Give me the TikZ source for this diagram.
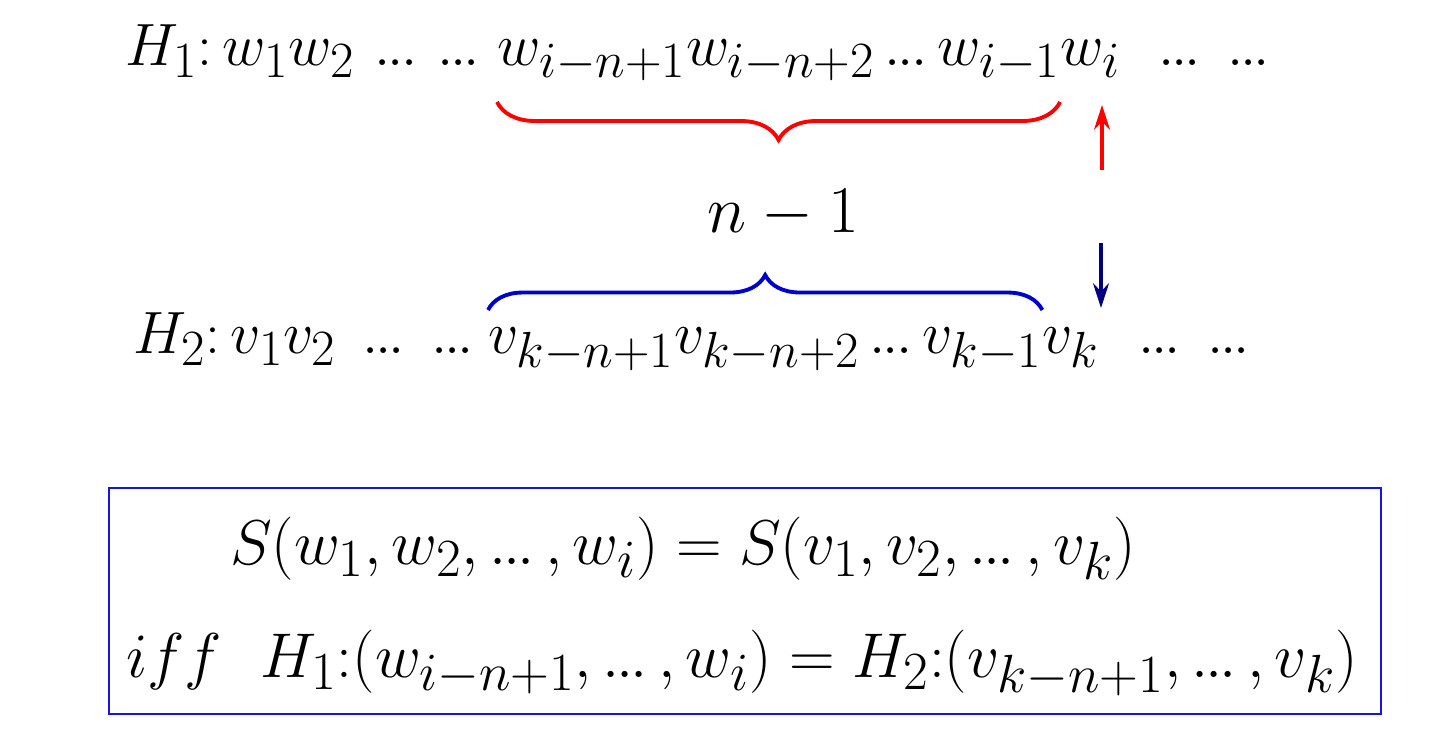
\RequirePackage{fix-cm}
\documentclass[tikz,border=0pt]{standalone}
\usepackage{amsmath,amssymb}
\usepackage{tikz}
\usetikzlibrary{arrows.meta, calc, positioning, decorations.pathreplacing}
\definecolor{bracered}{RGB}{255, 0, 0}
\definecolor{braceblue}{RGB}{0, 0, 204}
\definecolor{arrownavy}{RGB}{0, 0, 128}
\definecolor{boxblue}{RGB}{20, 20, 230}
\renewcommand{\defaultscriptratio}{.85}
\newcommand{\tdots}{\mathinner{.\kern-0.05em.\kern-0.05em.}}

\begin{document}
\begin{tikzpicture}[x=0.02cm, y=-0.02cm,
    seqtxt/.style={inner sep=0pt, font=\fontsize{34}{40}\selectfont},
    eqtxt/.style={inner sep=0pt, font=\fontsize{36}{42}\selectfont},
    bracedeco/.style={decorate, line width=2.2pt,
        decoration={brace, amplitude=#1}},
    upstem/.style={line width=2.2pt, bracered, -{Stealth[length=14pt, width=9pt]}},
    downstem/.style={line width=2.2pt, arrownavy, -{Stealth[length=14pt, width=9pt]}}]
    \useasboundingbox (0,0) rectangle (1451,744);

    % First sequence
    \node[seqtxt, anchor=base west] (h1) at (125,65) {$H_1{:}\,w_1w_2\,\tdots\,\tdots$};
    \node[seqtxt, anchor=base west] (wseg) at (497,65) {$w_{i-n+1}w_{i-n+2}\tdots w_{i-1}$};
    \node[seqtxt, anchor=base west] (wi) at (wseg.base east) {$w_i$};
    \node[seqtxt, anchor=base west] (wdots) at (1158,65) {$\tdots\;\tdots$};

    % Second sequence
    \node[seqtxt, anchor=base west] (h2) at (133,353) {$H_2{:}\,v_1v_2\;\tdots\;\tdots$};
    \node[seqtxt, anchor=base west] (vseg) at (488,353) {$v_{k-n+1}v_{k-n+2}\tdots v_{k-1}$};
    \node[seqtxt, anchor=base west] (vk) at (vseg.base east) {$v_k$};
    \node[seqtxt, anchor=base west] (vdots) at (1138,353) {$\tdots\;\tdots$};

    % Braces and the shared length
    \draw[bracedeco=0.76cm, bracered] ([yshift=-0.74cm]wseg.base east) -- ([yshift=-0.74cm]wseg.base west);
    \draw[bracedeco=0.7cm, braceblue] ([yshift=0.86cm]vseg.base west) -- ([yshift=0.86cm]vseg.base east);
    \node[inner sep=0pt, font=\fontsize{38}{44}\selectfont] (len) at (783,214) {$n-1$};

    % Arrows
    \coordinate (ra) at (1102,170);
    \coordinate (ba) at (1101,243);
    \draw[upstem] (ra) -- (ra |- 0,105);
    \draw[downstem] (ba) -- (ba |- 0,308);

    % Condition box
    \draw[boxblue, line width=1.2pt] (109,488) rectangle (1381,714);
    \node[eqtxt, anchor=base] (eqa) at (683,564) {$S(w_1,w_2,\tdots,w_i)=S(v_1,v_2,\tdots,v_k)$};
    \node[eqtxt, anchor=base] (eqb) at (742,677) {$iff\ \ H_1{:}(w_{i-n+1},\tdots,w_i)=H_2{:}(v_{k-n+1},\tdots,v_k)$};
\end{tikzpicture}
\end{document}
